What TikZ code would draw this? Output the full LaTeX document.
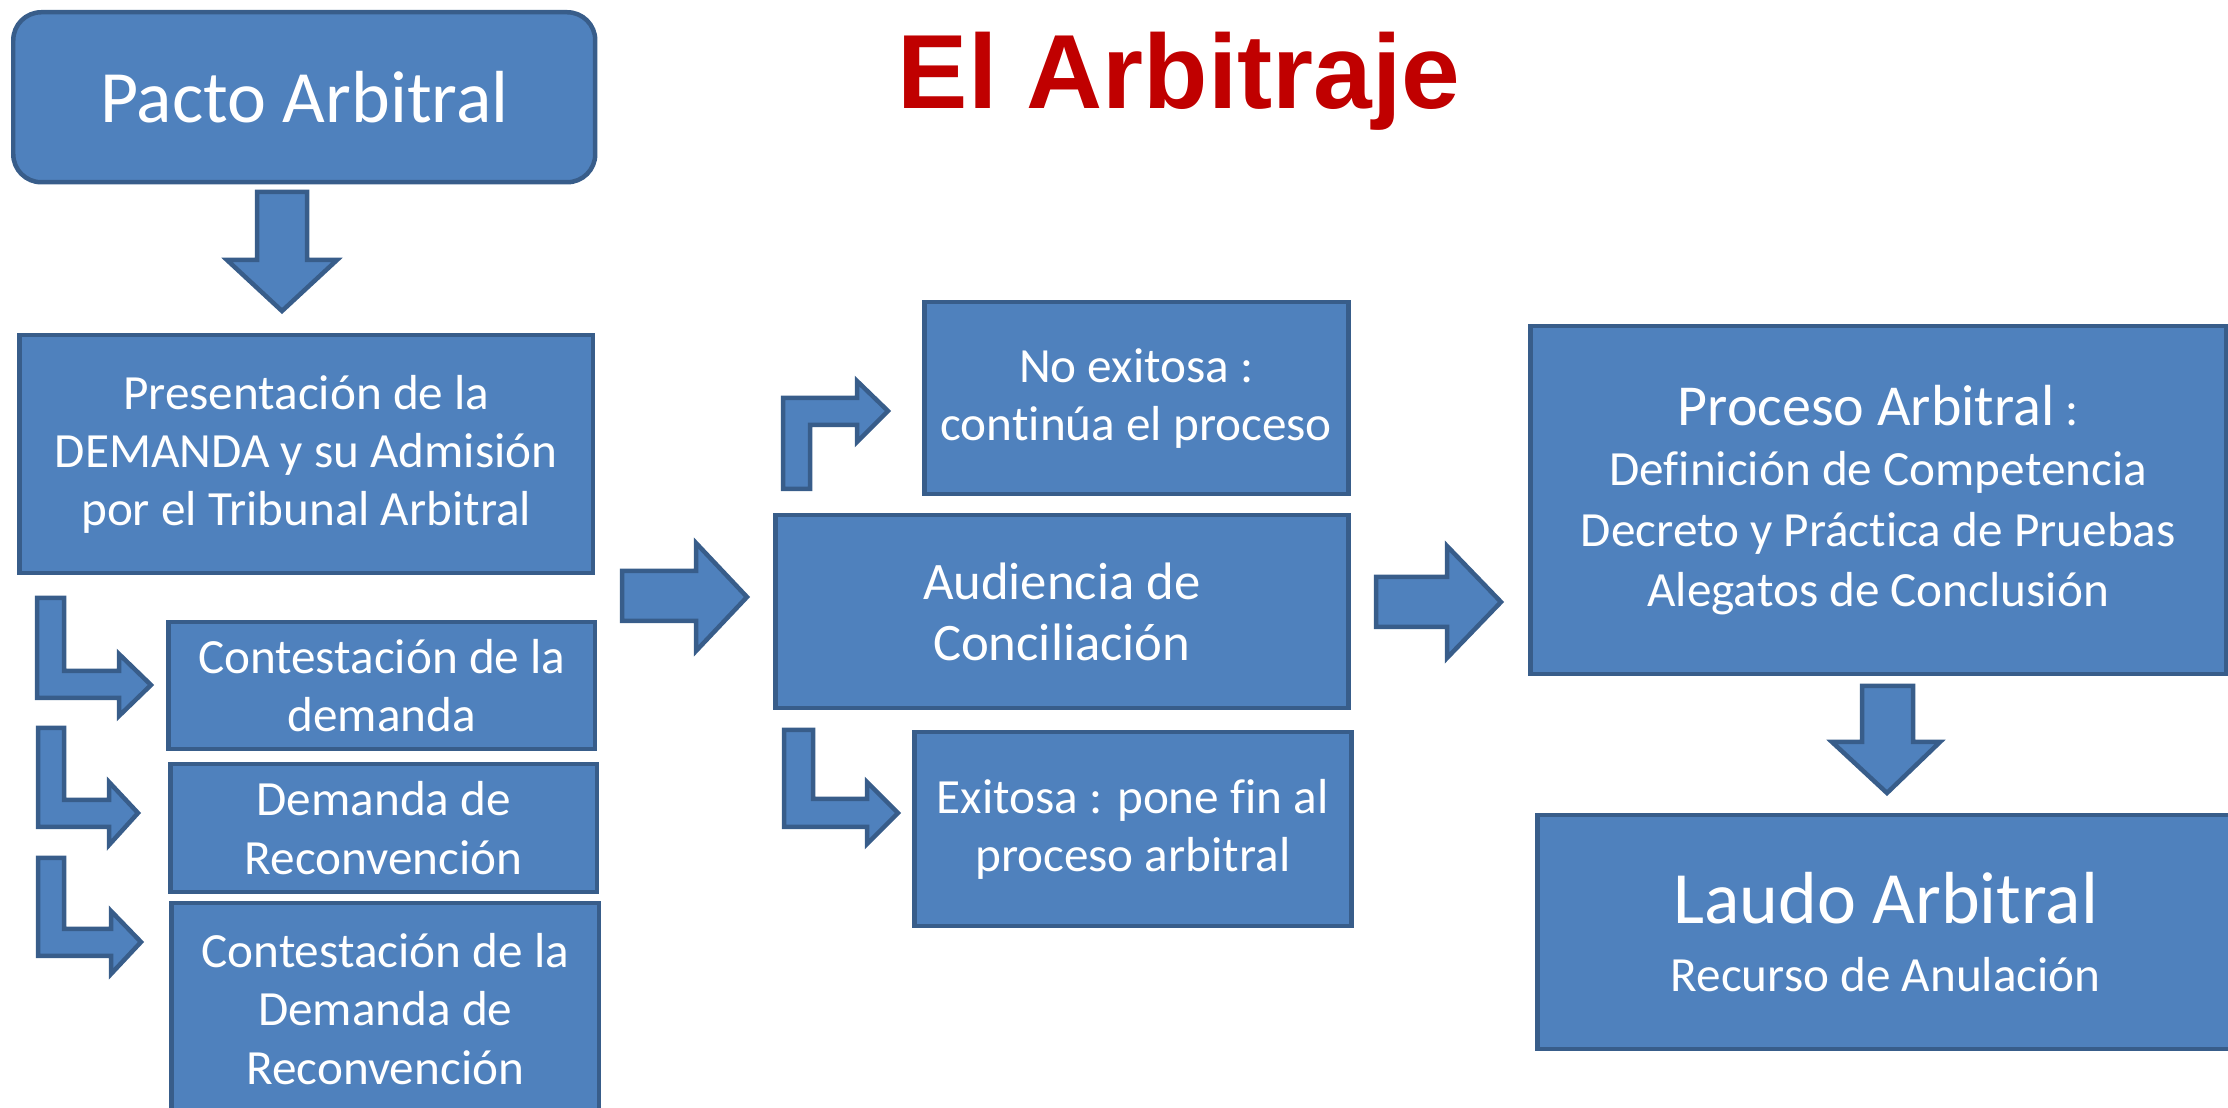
\documentclass[tikz,border=0pt]{standalone}
\usepackage{fontspec}
\setmainfont{Carlito}[Ligatures=NoCommon]
\newfontfamily\titlefont{Liberation Sans}
\definecolor{boxfill}{HTML}{4F81BD}
\definecolor{boxline}{HTML}{385D8A}
\definecolor{titlered}{HTML}{C00000}

\begin{document}
\begin{tikzpicture}[x=0.1mm, y=-0.1mm,
    box/.style={draw=boxline, fill=boxfill, line width=0.45mm, text=white,
                align=center, inner sep=0pt, anchor=north west,
                font=\fontsize{14}{16.6}\selectfont},
    blockarrow/.style={draw=boxline, fill=boxfill, line width=0.45mm, line join=miter}]
\clip (0,0) rectangle (2228,1108);

% title
\node[anchor=base, text=titlered, font=\titlefont\bfseries\fontsize{30}{36}\selectfont]
  (title) at (1179,109) {El Arbitraje};

% left column
\node[box, rounded corners=2.8mm, minimum width=58.2mm, minimum height=17mm,
      font=\fontsize{21}{25}\selectfont] (pacto) at (11,10) {Pacto Arbitral};
\node[box, minimum width=57.4mm, minimum height=23.8mm] (demanda) at (17,333)
  {Presentación de la\\DEMANDA y su Admisión\\por el Tribunal Arbitral};
\node[box, minimum width=42.7mm, minimum height=12.7mm] (contest) at (166,620)
  {Contestación de la\\demanda};
\node[box, minimum width=42.7mm, minimum height=12.8mm] (reconv) at (168,762)
  {Demanda de\\Reconvención};
\node[box, minimum width=42.8mm, minimum height=21.1mm] (contreconv) at (169,901)
  {Contestación de la\\Demanda de\\Reconvención};

% middle column
\node[box, minimum width=42.4mm, minimum height=19.2mm] (noexito) at (922,300)
  {No exitosa :\\continúa el proceso};
\node[box, minimum width=57.3mm, minimum height=19.3mm,
      font=\fontsize{15}{17.5}\selectfont] (audiencia) at (773,513)
  {Audiencia de\\Conciliación};
\node[box, minimum width=43.7mm, minimum height=19.4mm] (exito) at (912,730)
  {Exitosa : pone fin al\\proceso arbitral};

% right column
\node[box, minimum width=69.6mm, minimum height=34.8mm,
      font=\fontsize{14}{17.2}\selectfont] (proceso) at (1528,324)
  {{\fontsize{16.5}{18}\selectfont Proceso Arbitral} :\\Definición de Competencia\\
   Decreto y Práctica de Pruebas\\Alegatos de Conclusión};
\node[box, minimum width=69.7mm, minimum height=23.4mm] (laudo) at (1535,813)
  {{\fontsize{21}{24}\selectfont Laudo Arbitral}\\[1mm]Recurso de Anulación};

% straight block arrows
\draw[blockarrow] (257,192) -- (307,192) -- (307,260) -- (337,260) -- (282,311)
  -- (227,260) -- (257,260) -- cycle;
\draw[blockarrow] (622,571) -- (696,571) -- (696,543) -- (747,597) -- (696,651)
  -- (696,621) -- (622,621) -- cycle;
\draw[blockarrow] (1376,577) -- (1447,577) -- (1447,546) -- (1501,602) -- (1447,658)
  -- (1447,627) -- (1376,627) -- cycle;
\draw[blockarrow] (1862,686) -- (1913,686) -- (1913,742) -- (1940,742) -- (1887,793)
  -- (1832,742) -- (1862,742) -- cycle;

% bent block arrows
\draw[blockarrow] (37,598) -- (64,598) -- (64,671) -- (119,671) -- (119,654) -- (151,685)
  -- (119,716) -- (119,698) -- (37,698) -- cycle;
\draw[blockarrow] (38,728) -- (64,728) -- (64,800) -- (109,800) -- (109,782) -- (138,813)
  -- (109,845) -- (109,827) -- (38,827) -- cycle;
\draw[blockarrow] (38,858) -- (64,858) -- (64,929) -- (111,929) -- (111,911) -- (141,942)
  -- (111,974) -- (111,956) -- (38,956) -- cycle;
\draw[blockarrow] (783,489) -- (783,398) -- (857,398) -- (857,381) -- (888,411)
  -- (857,442) -- (857,425) -- (810,425) -- (810,489) -- cycle;
\draw[blockarrow] (784,730) -- (813,730) -- (813,799) -- (867,799) -- (867,782) -- (898,813)
  -- (867,844) -- (867,827) -- (784,827) -- cycle;
\end{tikzpicture}
\end{document}
